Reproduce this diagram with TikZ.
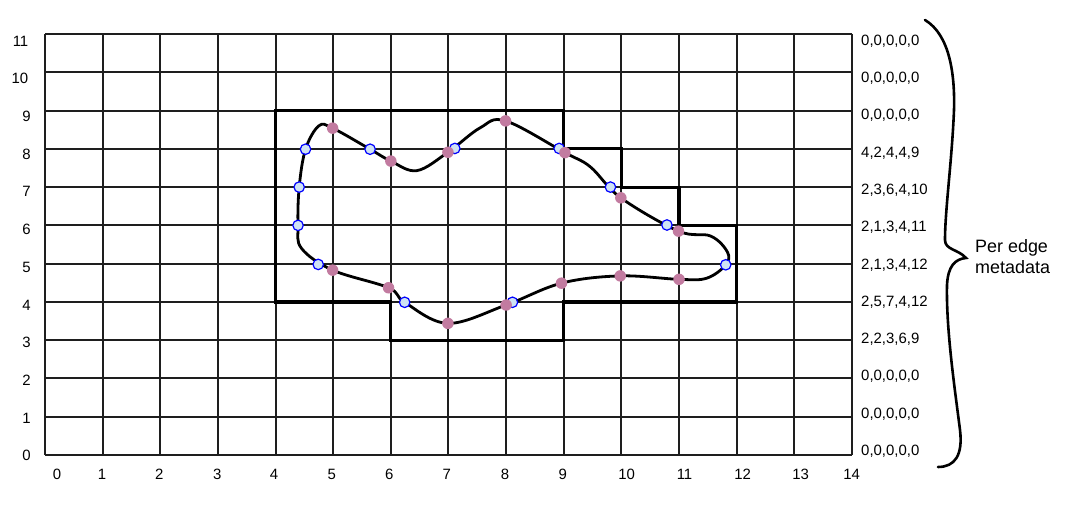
\documentclass[tikz,border=0pt]{standalone}
\usepackage{fontspec}
\setmainfont{Liberation Sans}
\definecolor{gridc}{RGB}{30,30,30}
\definecolor{bluefill}{RGB}{207,226,243}
\definecolor{pinkc}{RGB}{194,123,160}
\begin{document}
\begin{tikzpicture}[x=1bp,y=-1bp,
  gridline/.style={draw=gridc, line width=1.6bp},
  region/.style={draw=black, line width=3.2bp, line join=miter},
  contour/.style={draw=black, line width=2.8bp},
  bdot/.style={circle, draw=blue, fill=bluefill, line width=1.2bp, minimum size=10.5bp, inner sep=0pt},
  pdot/.style={circle, fill=pinkc, minimum size=11.5bp, inner sep=0pt},
  axlab/.style={font=\fontsize{15}{15}\selectfont, inner sep=0pt},
  meta/.style={font=\fontsize{15}{15}\selectfont, inner sep=0pt, anchor=west},
  bracel/.style={draw=black, line width=2.6bp, line cap=round}
]
\useasboundingbox (0,0) rectangle (1068,509);
% y axis labels
\foreach \v in {0,...,9} \node[axlab, anchor=east] (yl\v) at (31, {41+(11-\v)*37.7}) {\v};
\foreach \v in {10,11} \node[axlab, anchor=east] (yl\v) at (28.5, {41+(11-\v)*37.7}) {\v};
% x axis labels
\foreach \v/\px in {0/57,1/102,2/159.3,3/217.3,4/274,5/331.7,6/389.3,7/446.7,8/505,9/562.7,10/626.7,11/684.5,12/742.7,13/800.7,14/851.7}
  \node[axlab] (xl\v) at (\px,474) {\v};
% grid, snapped to whole pixels
\foreach \i in {0,...,14} {
  \pgfmathsetmacro\gx{45+round(\i*57.64)}
  \draw[gridline] (\gx,34) -- (\gx,455);
}
\foreach \j in {0,...,11} {
  \pgfmathsetmacro\gy{455-round(\j*38.27)}
  \draw[gridline] (45,\gy) -- (852,\gy);
}
\begin{scope}[shift={(45,455)}, x=57.64bp, y=38.27bp]
  \draw[region] (4,9) -- (9,9) -- (9,8) -- (10,8) -- (10,7) -- (11,7) -- (11,6) -- (12,6) -- (12,4) -- (9,4) -- (9,3) -- (6,3) -- (6,4) -- (4,4) -- cycle;
  \draw[contour] plot[smooth cycle, tension=0.6] coordinates {
    (4.39,6.00) (4.41,7.00) (4.52,7.99) (4.75,8.60) (4.99,8.54) (5.64,7.99)
    (6.00,7.68) (6.45,7.43) (6.99,7.91) (7.55,8.55) (7.99,8.73) (9.02,7.90) (9.46,7.53)
    (9.99,6.72) (10.99,5.85) (11.55,5.72) (11.84,5.30) (11.81,4.97) (11.48,4.62)
    (11.00,4.59) (9.98,4.68) (8.96,4.49) (8.00,3.92) (6.99,3.44) (6.24,3.99)
    (5.96,4.37) (4.99,4.83) (4.45,5.40)};
  % blue crossing points
  \foreach \n/\p in {b1/{(4.52,7.99)}, b2/{(4.41,7.00)}, b3/{(4.39,6.00)}, b4/{(4.74,4.98)},
     b5/{(6.24,3.99)}, b6/{(8.11,3.99)}, b7/{(11.81,4.97)}, b8/{(10.79,6.01)},
     b9/{(9.81,7.00)}, b10/{(8.92,8.01)}, b11/{(7.11,8.01)}, b12/{(5.64,7.99)}}
    \node[bdot] (\n) at \p {};
  % pink points
  \foreach \n/\p in {p1/{(4.99,8.54)}, p2/{(6.00,7.68)}, p3/{(6.99,7.91)}, p4/{(7.99,8.73)},
     p5/{(9.02,7.90)}, p6/{(9.99,6.72)}, p7/{(10.99,5.85)}, p8/{(11.00,4.59)},
     p9/{(9.98,4.68)}, p10/{(8.96,4.49)}, p11/{(8.00,3.92)}, p12/{(6.99,3.44)},
     p13/{(5.96,4.37)}, p14/{(4.99,4.83)}}
    \node[pdot] (\n) at \p {};
\end{scope}
% metadata
\foreach \t [count=\k from 0] in {{0,0,0,0,0},{0,0,0,0,0},{0,0,0,0,0},{4,2,4,4,9},{2,3,6,4,10},{2,1,3,4,11},{2,1,3,4,12},{2,5,7,4,12},{2,2,3,6,9},{0,0,0,0,0},{0,0,0,0,0},{0,0,0,0,0}}
  \node[meta] (m\k) at (861, {41+\k*37.3}) {\t};
% brace
\draw[bracel] (925,20) .. controls (950,35) and (955,75) .. (954,110)
  .. controls (952,160) and (945,210) .. (945,240)
  .. controls (945,250) and (958,249) .. (966,258)
  .. controls (955,259) and (948,266) .. (947,285)
  .. controls (946,330) and (955,390) .. (960,430)
  .. controls (963,455) and (955,467) .. (938,467);
\node[font=\fontsize{18}{21}\selectfont, align=left, inner sep=0pt, anchor=west] (lbl) at (975,257) {Per edge\\metadata};
\end{tikzpicture}
\end{document}
